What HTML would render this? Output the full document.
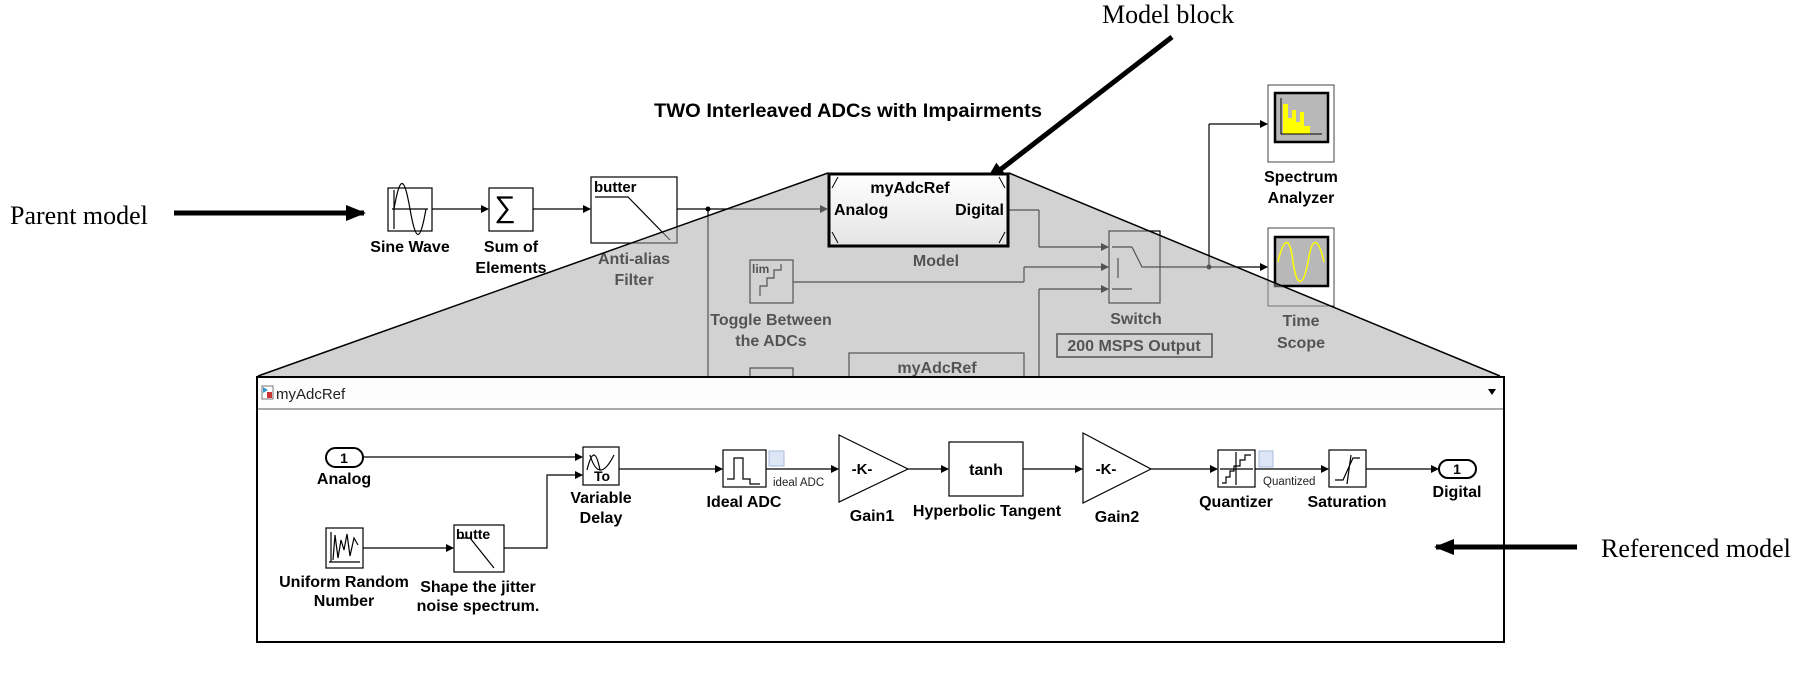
<!DOCTYPE html>
<html><head><meta charset="utf-8"><style>
html,body{margin:0;padding:0;background:#fff;}
svg{display:block;}
text{font-family:"Liberation Sans",Arial,sans-serif;}
.b{font-weight:bold;font-size:16px;}
.s{font-family:"Liberation Serif",serif;font-size:26px;}
</style></head><body>
<svg width="1816" height="675" viewBox="0 0 1816 675" xmlns="http://www.w3.org/2000/svg">
<defs>
<marker id="ah" markerWidth="8" markerHeight="8" refX="7" refY="4" orient="auto" markerUnits="userSpaceOnUse"><path d="M0,0 L8,4 L0,8 z" fill="#000"/></marker>
<marker id="big" markerWidth="20" markerHeight="20" refX="18" refY="10" orient="auto" markerUnits="userSpaceOnUse"><path d="M0,2 L20,10 L0,18 z" fill="#000"/></marker>
<linearGradient id="mg" x1="0" y1="0" x2="0" y2="1"><stop offset="0" stop-color="#fff"/><stop offset="1" stop-color="#e4e4e4"/></linearGradient>
</defs>
<rect width="1816" height="675" fill="#fff"/>

<text x="10" y="224" class="s">Parent model</text>
<line x1="174" y1="213" x2="364" y2="213" stroke="#000" stroke-width="5" marker-end="url(#big)"/>
<text x="1102" y="23" class="s" font-size="25">Model block</text>
<line x1="1172" y1="37" x2="987" y2="180" stroke="#000" stroke-width="5" marker-end="url(#big)"/>
<text x="654" y="117" font-weight="bold" font-size="19" textLength="388" lengthAdjust="spacingAndGlyphs">TWO Interleaved ADCs with Impairments</text>

<g stroke="#000" fill="none" stroke-width="1.2">
<rect x="388" y="188" width="44" height="43" fill="#fff"/>
<path d="M392,209 H428 M394,190 V229 M394,209 C400,175 404,175 410,209 C416,243 420,243 426,209"/>
<rect x="489" y="188" width="44" height="43" fill="#fff"/>
<rect x="591" y="177" width="86" height="66" fill="#fff"/>
<path d="M595,197 H628 L670,240"/>
<line x1="432" y1="209" x2="488" y2="209" marker-end="url(#ah)"/>
<line x1="533" y1="209" x2="590" y2="209" marker-end="url(#ah)"/>
<line x1="677" y1="209" x2="827" y2="209" marker-end="url(#ah)"/>
<line x1="708" y1="209" x2="708" y2="376"/>
<rect x="750" y="260" width="43" height="43" fill="#fff"/>
<path d="M760,296 V286 H767 V278 H774 V270 H781 V264"/>
<line x1="793" y1="282" x2="1024" y2="282"/>
<line x1="1024" y1="282" x2="1024" y2="267"/>
<line x1="1024" y1="267" x2="1108" y2="267" marker-end="url(#ah)"/>
<rect x="750" y="368" width="43" height="10" fill="#fff"/>
<rect x="849" y="353" width="175" height="25" fill="#fff"/>
<line x1="1009" y1="210" x2="1039" y2="210"/>
<line x1="1039" y1="210" x2="1039" y2="247"/>
<line x1="1039" y1="247" x2="1108" y2="247" marker-end="url(#ah)"/>
<line x1="1039" y1="376" x2="1039" y2="289"/>
<line x1="1039" y1="289" x2="1108" y2="289" marker-end="url(#ah)"/>
<rect x="1109" y="231" width="51" height="72" fill="#fff"/>
<path d="M1112,247 H1132 M1112,289 H1132 M1118,258 V278 M1132,247 L1142,267 H1160"/>
<rect x="1057" y="334" width="155" height="23" fill="#fff" stroke-width="1.5"/>
<line x1="1160" y1="267" x2="1267" y2="267" marker-end="url(#ah)"/>
<line x1="1209" y1="267" x2="1209" y2="124"/>
<line x1="1209" y1="124" x2="1267" y2="124" marker-end="url(#ah)"/>
</g>
<circle cx="708" cy="209" r="2.5"/>
<circle cx="1209" cy="267" r="2.5"/>
<text x="505" y="217" font-size="30" text-anchor="middle">∑</text>
<text x="594" y="192" font-weight="bold" font-size="15">butter</text>
<text x="752" y="273" font-weight="bold" font-size="12">lim</text>
<text class="b" x="410" y="252" text-anchor="middle">Sine Wave</text>
<text class="b" x="511" y="252" text-anchor="middle">Sum of</text>
<text class="b" x="511" y="273" text-anchor="middle">Elements</text>
<text class="b" x="634" y="264" text-anchor="middle">Anti-alias</text>
<text class="b" x="634" y="285" text-anchor="middle">Filter</text>
<text class="b" x="771" y="325" text-anchor="middle">Toggle Between</text>
<text class="b" x="771" y="346" text-anchor="middle">the ADCs</text>
<text class="b" x="936" y="266" text-anchor="middle">Model</text>
<text class="b" x="937" y="373" text-anchor="middle">myAdcRef</text>
<text class="b" x="1136" y="324" text-anchor="middle">Switch</text>
<text class="b" x="1134" y="351" text-anchor="middle">200 MSPS Output</text>
<rect x="1268" y="85" width="66" height="77" fill="#fff" stroke="#444"/>
<rect x="1275" y="93" width="53" height="49" fill="#b8b8b8" stroke="#000" stroke-width="2.5"/>
<path d="M1283,134 V104 H1288 V118 H1292 V110 H1296 V122 H1300 V112 H1304 V126 H1310 V134 z" fill="#ff0"/>
<path d="M1281,98 V134 H1322" stroke="#000" fill="none"/>
<text class="b" x="1301" y="182" text-anchor="middle">Spectrum</text>
<text class="b" x="1301" y="203" text-anchor="middle">Analyzer</text>
<rect x="1268" y="228" width="66" height="78" fill="#fff" stroke="#444"/>
<rect x="1275" y="237" width="53" height="49" fill="#b8b8b8" stroke="#000" stroke-width="2.5"/>
<path d="M1278,262 C1284,236 1290,236 1293,262 C1297,288 1303,288 1308,262 C1312,236 1318,236 1324,262" stroke="#ff0" stroke-width="1.5" fill="none"/>
<text class="b" x="1301" y="326" text-anchor="middle">Time</text>
<text class="b" x="1301" y="348" text-anchor="middle">Scope</text>

<polygon points="828,173 1009,173 1500,376 258,376" fill="rgba(165,165,165,0.5)"/>
<polyline points="258,376 828,173" stroke="#000" stroke-width="1.5" fill="none"/>
<polyline points="1009,173 1500,376" stroke="#000" stroke-width="1.5" fill="none"/>

<rect x="829" y="174" width="179" height="72" fill="url(#mg)" stroke="#000" stroke-width="3"/>
<path d="M832,188 L838,177 M832,232 L838,243 M1005,188 L999,177 M1005,232 L999,243" stroke="#000"/>
<text class="b" x="910" y="193" text-anchor="middle">myAdcRef</text>
<text class="b" x="834" y="215">Analog</text>
<text class="b" x="1004" y="215" text-anchor="end">Digital</text>

<rect x="257" y="377" width="1247" height="265" fill="#fff" stroke="#000" stroke-width="2"/>
<rect x="258" y="378" width="1245" height="30" fill="#fdfdfd"/>
<line x1="258" y1="409" x2="1503" y2="409" stroke="#aaa" stroke-width="2"/>
<rect x="262" y="386" width="11" height="13" fill="#fff" stroke="#777"/>
<rect x="267" y="392" width="5" height="6" fill="#c33"/>
<path d="M263,387 L268,390 L263,393z" fill="#39c"/>
<text x="276" y="399" font-size="15" fill="#222">myAdcRef</text>
<path d="M1488,389 L1496,389 L1492,395z" fill="#000"/>

<g stroke="#000" fill="none" stroke-width="1.2">
<rect x="326" y="448" width="37" height="19" rx="9.5" fill="#fff" stroke-width="2"/>
<line x1="363" y1="457" x2="582" y2="457" marker-end="url(#ah)"/>
<rect x="583" y="447" width="36" height="38" fill="#fff"/>
<path d="M587,470 C592,450 596,450 600,470 M590,455 C596,475 604,475 614,455"/>
<rect x="326" y="528" width="37" height="40" fill="#fff"/>
<path d="M329,562 H360 M331,532 V562 M333,560 L335,535 L338,558 L341,540 L344,550 L347,534 L350,556 L354,538 L358,545"/>
<line x1="363" y1="548" x2="453" y2="548" marker-end="url(#ah)"/>
<rect x="454" y="525" width="50" height="47" fill="#fff"/>
<path d="M457,538 H470 L494,568"/>
<polyline points="504,548 547,548 547,475 582,475" marker-end="url(#ah)"/>
<line x1="619" y1="469" x2="722" y2="469" marker-end="url(#ah)"/>
<rect x="723" y="450" width="43" height="37" fill="#fff"/>
<path d="M727,479 H734 V458 H743 V479 H750 V484 H760"/>
<line x1="766" y1="469" x2="838" y2="469" marker-end="url(#ah)"/>
<polygon points="839,435 908,469 839,502" fill="#fff"/>
<line x1="908" y1="469" x2="948" y2="469" marker-end="url(#ah)"/>
<rect x="949" y="442" width="74" height="54" fill="#fff"/>
<line x1="1023" y1="469" x2="1082" y2="469" marker-end="url(#ah)"/>
<polygon points="1083,433 1151,469 1083,503" fill="#fff"/>
<line x1="1151" y1="469" x2="1217" y2="469" marker-end="url(#ah)"/>
<rect x="1218" y="450" width="37" height="37" fill="#fff"/>
<path d="M1236,452 V485 M1220,469 H1253 M1222,483 H1226 V477 H1230 V471 H1234 V466 H1240 V460 H1245 V455 H1251"/>
<line x1="1255" y1="469" x2="1328" y2="469" marker-end="url(#ah)"/>
<rect x="1329" y="450" width="37" height="37" fill="#fff"/>
<path d="M1335,480 H1343 L1353,458 H1360 M1347,484 L1351,455"/>
<line x1="1366" y1="469" x2="1438" y2="469" marker-end="url(#ah)"/>
<rect x="1439" y="460" width="37" height="18" rx="9" fill="#fff" stroke-width="2"/>
</g>
<rect x="769" y="451" width="15" height="15" fill="#dde6f5" stroke="#aabbdd"/>
<rect x="1259" y="451" width="14" height="16" fill="#dde6f5" stroke="#aabbdd"/>
<text font-weight="bold" font-size="14" x="344" y="463" text-anchor="middle">1</text>
<text font-weight="bold" font-size="14" x="1457" y="474" text-anchor="middle">1</text>
<text font-weight="bold" font-size="14" x="594" y="481">To</text>
<text font-weight="bold" font-size="14" x="456" y="539">butte</text>
<text font-weight="bold" font-size="15" x="862" y="474" text-anchor="middle">-K-</text>
<text font-weight="bold" font-size="15" x="1106" y="474" text-anchor="middle">-K-</text>
<text font-weight="bold" font-size="16" x="986" y="475" text-anchor="middle">tanh</text>
<text x="773" y="486" font-size="11.5" fill="#222">ideal ADC</text>
<text x="1263" y="485" font-size="11.5" fill="#222">Quantized</text>
<text class="b" x="344" y="484" text-anchor="middle">Analog</text>
<text class="b" x="601" y="503" text-anchor="middle">Variable</text>
<text class="b" x="601" y="523" text-anchor="middle">Delay</text>
<text class="b" x="344" y="587" text-anchor="middle">Uniform Random</text>
<text class="b" x="344" y="606" text-anchor="middle">Number</text>
<text class="b" x="478" y="592" text-anchor="middle">Shape the jitter</text>
<text class="b" x="478" y="611" text-anchor="middle">noise spectrum.</text>
<text class="b" x="744" y="507" text-anchor="middle">Ideal ADC</text>
<text class="b" x="872" y="521" text-anchor="middle">Gain1</text>
<text class="b" x="987" y="516" text-anchor="middle">Hyperbolic Tangent</text>
<text class="b" x="1117" y="522" text-anchor="middle">Gain2</text>
<text class="b" x="1236" y="507" text-anchor="middle">Quantizer</text>
<text class="b" x="1347" y="507" text-anchor="middle">Saturation</text>
<text class="b" x="1457" y="497" text-anchor="middle">Digital</text>

<line x1="1577" y1="547" x2="1436" y2="547" stroke="#000" stroke-width="5" marker-end="url(#big)"/>
<text x="1601" y="557" class="s" font-size="25">Referenced model</text>
</svg>
</body></html>
